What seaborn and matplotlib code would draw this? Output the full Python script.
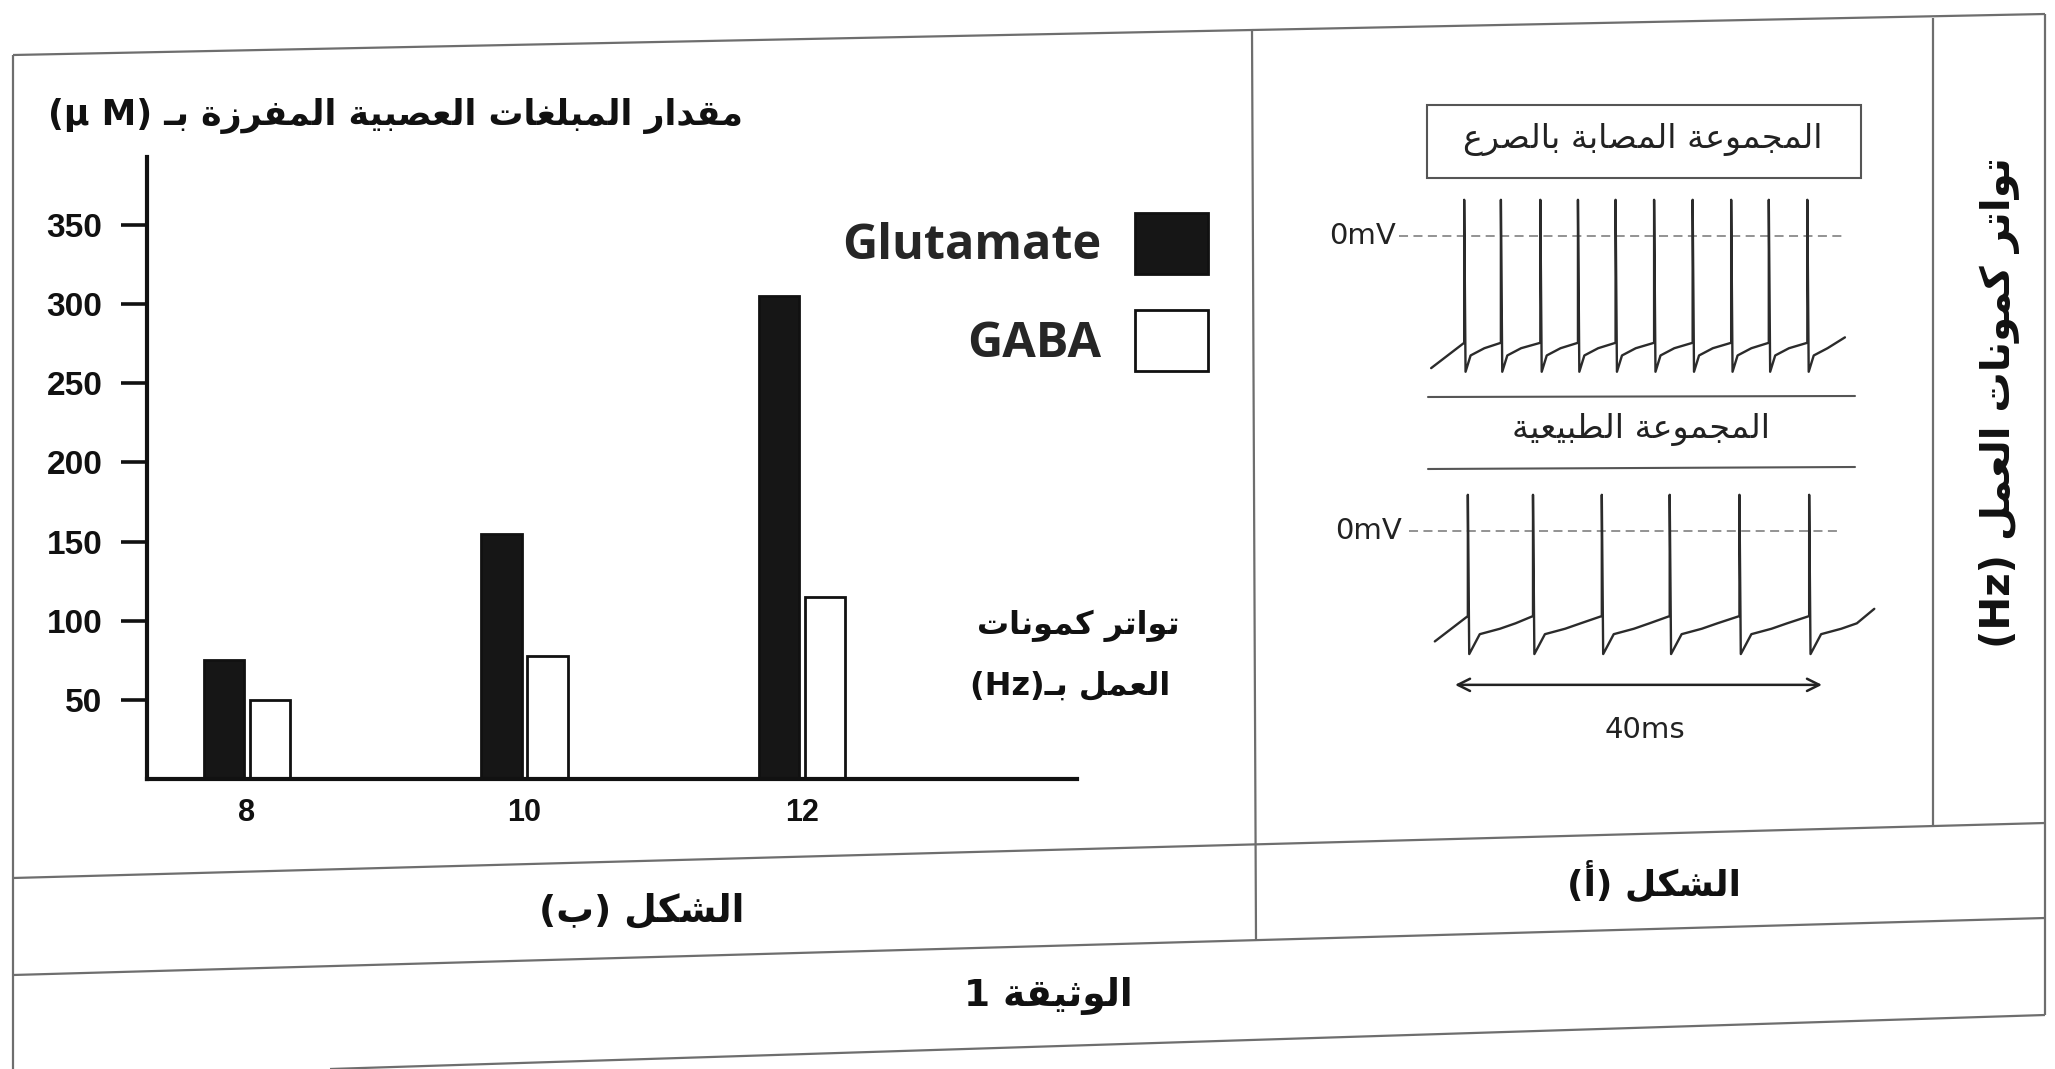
import re
import matplotlib
matplotlib.use('Agg')
import matplotlib.pyplot as plt
import seaborn as sns
import pandas as pd
from matplotlib.patches import Patch, Rectangle

# ---------------- data ----------------
frequencies = ['8', '10', '12']
glutamate = [75, 155, 305]
gaba = [50, 78, 115]
y_ticks = [50, 100, 150, 200, 250, 300, 350]

# action potential traces: spike times (ms) and voltages (mV)
epi_spikes = [1.0, 5.0, 9.3, 13.4, 17.5, 21.7, 25.9, 30.1, 34.2, 38.4]
epi_levels = {'start': (-2.6, -73), 'end': (42.5, -56), 'foot': -59, 'peak': 20,
              'trough': -75, 'mids': [(0.7, -66), (2.2, -62)]}
norm_spikes = [1.4, 8.5, 16.0, 23.4, 31.0, 38.6]
norm_levels = {'start': (-2.2, -61), 'end': (45.7, -43), 'foot': -47, 'peak': 20,
               'trough': -68, 'mids': [(1.3, -57), (3.5, -54), (5.2, -51)]}

W, H = 2055, 1069

# ---------------- arabic shaping (no bidi lib available) ----------------
AR_LETTERS = [
    ('ء', 0xFE80, 1), ('آ', 0xFE81, 2), ('أ', 0xFE83, 2), ('ؤ', 0xFE85, 2),
    ('إ', 0xFE87, 2), ('ئ', 0xFE89, 4), ('ا', 0xFE8D, 2), ('ب', 0xFE8F, 4),
    ('ة', 0xFE93, 2), ('ت', 0xFE95, 4), ('ث', 0xFE99, 4), ('ج', 0xFE9D, 4),
    ('ح', 0xFEA1, 4), ('خ', 0xFEA5, 4), ('د', 0xFEA9, 2), ('ذ', 0xFEAB, 2),
    ('ر', 0xFEAD, 2), ('ز', 0xFEAF, 2), ('س', 0xFEB1, 4), ('ش', 0xFEB5, 4),
    ('ص', 0xFEB9, 4), ('ض', 0xFEBD, 4), ('ط', 0xFEC1, 4), ('ظ', 0xFEC5, 4),
    ('ع', 0xFEC9, 4), ('غ', 0xFECD, 4), ('ف', 0xFED1, 4), ('ق', 0xFED5, 4),
    ('ك', 0xFED9, 4), ('ل', 0xFEDD, 4), ('م', 0xFEE1, 4), ('ن', 0xFEE5, 4),
    ('ه', 0xFEE9, 4), ('و', 0xFEED, 2), ('ى', 0xFEEF, 2), ('ي', 0xFEF1, 4),
]
FORMS = {c: (b, n) for c, b, n in AR_LETTERS}
LAM_ALEF = {'آ': 0xFEF5, 'أ': 0xFEF7, 'إ': 0xFEF9, 'ا': 0xFEFB}
TATWEEL = 'ـ'


def dual(c):
    return c == TATWEEL or (c in FORMS and FORMS[c][1] == 4)


def joins(c):
    return c == TATWEEL or (c in FORMS and FORMS[c][1] > 1)


def ar(text):
    lines = []
    for line in text.split('\n'):
        out = []
        i = 0
        while i < len(line):
            c = line[i]
            prev = line[i - 1] if i > 0 else ''
            nxt = line[i + 1] if i + 1 < len(line) else ''
            link_prev = dual(prev) and joins(c)
            if c == 'ل' and nxt in LAM_ALEF:
                out.append(chr(LAM_ALEF[nxt] + (1 if link_prev else 0)))
                i += 2
                continue
            if c in FORMS:
                base, n = FORMS[c]
                link_next = n == 4 and joins(nxt)
                if n == 1:
                    k = 0
                elif link_prev and link_next:
                    k = 3
                elif link_next:
                    k = 2
                elif link_prev:
                    k = 1
                else:
                    k = 0
                out.append(chr(base + k))
            else:
                out.append(c)
            i += 1
        tokens = re.findall(r'[A-Za-z0-9.]+|.', ''.join(out))
        mirror = {'(': ')', ')': '('}
        lines.append(''.join(mirror.get(t, t) for t in reversed(tokens)))
    return '\n'.join(lines)


def build_trace(spikes, lv):
    t, v = [lv['start'][0]], [lv['start'][1]]
    for s in spikes:
        t += [s, s, s + 0.15]
        v += [lv['foot'], lv['peak'], lv['trough']]
        for dt, mv in lv['mids']:
            t.append(s + dt)
            v.append(mv)
    t.append(lv['end'][0])
    v.append(lv['end'][1])
    return pd.DataFrame({'t': t, 'v': v})


def px_rect(l, t, r, b):
    return [l / W, 1 - b / H, (r - l) / W, (b - t) / H]


# ---------------- figure ----------------
sns.set_theme(style='white')
plt.rcParams['font.family'] = ['DejaVu Sans']
AR_FONT = ['DejaVu Sans']
NUM_FONT = ['Liberation Sans', 'DejaVu Sans']
LAT_FONT = ['Open Sans', 'DejaVu Sans']

fig = plt.figure(figsize=(W / 100, H / 100), dpi=100, facecolor='white')

# background layer in pixel coordinates for the table frame and captions
bg = fig.add_axes([0, 0, 1, 1], zorder=0)
bg.set_xlim(0, W)
bg.set_ylim(H, 0)
bg.axis('off')

frame_col = '#6e6e6e'
frame_lines = [
    ((13, 2045), (55, 14)),      # top
    ((13, 2045), (878, 823)),    # under the figures
    ((13, 2045), (975, 918)),    # under the captions
    ((330, 2045), (1069, 1015)), # bottom
    ((13, 13), (55, 1069)),      # left border
    ((2045, 2045), (14, 1015)),  # right border
    ((1252, 1256), (29, 940)),   # middle divider
    ((1933, 1933), (18, 826)),   # right column
]
for xs, ys in frame_lines:
    bg.plot(xs, ys, color=frame_col, lw=1.6, solid_capstyle='butt')

# boxes over the traces
bg.add_patch(Rectangle((1427, 105), 434, 73, fill=False, ec='#555555', lw=1.5))
bg.plot([1428, 1855], [397, 396], color='#555555', lw=1.5)
bg.plot([1428, 1855], [469, 467], color='#555555', lw=1.5)

bg.text(1643, 139, ar('المجموعة المصابة بالصرع'), family=AR_FONT, fontsize=24,
        ha='center', va='center', color='#222222')
bg.text(1641, 430, ar('المجموعة الطبيعية'), family=AR_FONT, fontsize=24,
        ha='center', va='center', color='#222222')

bg.text(395, 116, ar('مقدار المبلغات العصبية المفرزة بـ (M µ)'), family=AR_FONT,
        fontsize=25, fontweight='bold', ha='center', va='center', color='#111111')
bg.text(1078, 626, ar('تواتر كمونات'), family=AR_FONT, fontsize=23,
        fontweight='bold', ha='center', va='center', color='#111111')
bg.text(1070, 686, ar('العمل بـ(Hz)'), family=AR_FONT, fontsize=23,
        fontweight='bold', ha='center', va='center', color='#111111')

bg.text(642, 911, ar('الشكل (ب)'), family=AR_FONT, fontsize=27, fontweight='bold',
        ha='center', va='center', color='#111111')
bg.text(1654, 881, ar('الشكل (أ)'), family=AR_FONT, fontsize=26, fontweight='bold',
        ha='center', va='center', color='#111111')
bg.text(1048, 996, ar('الوثيقة 1'), family=AR_FONT, fontsize=27, fontweight='bold',
        ha='center', va='center', color='#111111')
bg.text(1999, 403, ar('تواتر كمونات العمل (Hz)'), family=AR_FONT, fontsize=29,
        fontweight='bold', ha='center', va='center', rotation=90, color='#111111')

# ---------------- bar chart ----------------
ax = fig.add_axes(px_rect(147, 157, 1077, 779), zorder=2)
ax.patch.set_alpha(0)

df = pd.DataFrame({
    'freq': frequencies * 2,
    'transmitter': ['Glutamate'] * len(glutamate) + ['GABA'] * len(gaba),
    'amount': glutamate + gaba,
})
bar_colors = {'Glutamate': '#161616', 'GABA': 'white'}
sns.barplot(data=df, x='freq', y='amount', hue='transmitter', order=frequencies,
            hue_order=['Glutamate', 'GABA'], palette=bar_colors, edgecolor='#111111',
            linewidth=2, width=0.33, gap=0.12, saturation=1, legend=False, ax=ax)

ax.set_xlim(-0.36, 2.99)
ax.set_ylim(0, 393)
ax.set_xlabel('')
ax.set_ylabel('')
ax.set_yticks(y_ticks)
ax.set_yticklabels([str(t) for t in y_ticks], family=NUM_FONT, fontsize=24,
                   fontweight='bold')
ax.set_xticks(range(len(frequencies)))
ax.set_xticklabels(frequencies, family=NUM_FONT, fontsize=22, fontweight='bold')
ax.tick_params(axis='y', direction='out', length=19, width=2.6, pad=13, color='#111111',
               left=True, labelcolor='#111111')
ax.tick_params(axis='x', length=0, pad=14, labelcolor='#111111')
for side in ['top', 'right']:
    ax.spines[side].set_visible(False)
for side in ['left', 'bottom']:
    ax.spines[side].set_linewidth(3)
    ax.spines[side].set_color('#111111')
ax.grid(False)

handles = [Patch(facecolor=bar_colors[k], edgecolor='#111111', linewidth=2)
           for k in ['Glutamate', 'GABA']]
fig.legend(handles, ['Glutamate', 'GABA'], loc='upper right',
           bbox_to_anchor=(1208 / W, 1 - 213 / H), markerfirst=False, frameon=False,
           prop={'family': LAT_FONT, 'weight': 'bold', 'size': 35},
           handlelength=1.5, handleheight=1.55, handletextpad=0.7, labelspacing=0.75,
           borderpad=0, borderaxespad=0)

# ---------------- action potential traces ----------------
MS_PX = 9.175   # pixels per ms
MV_PX = 1.81    # pixels per mV
X0 = 1455       # pixel of t = 0


def trace_axes(zero_px):
    l = X0 - 7 * MS_PX
    r = X0 + 46 * MS_PX
    t = zero_px - 25 * MV_PX
    b = zero_px + 80 * MV_PX
    a = fig.add_axes(px_rect(l, t, r, b), zorder=3)
    a.set_xlim(-7, 46)
    a.set_ylim(-80, 25)
    a.axis('off')
    return a


for spikes, lv, zero_px, dash_span, lab_x in [
        (epi_spikes, epi_levels, 236, (-6.1, 42.5), -6.4),
        (norm_spikes, norm_levels, 531, (-5.0, 42.0), -5.8)]:
    a = trace_axes(zero_px)
    a.hlines(0, dash_span[0], dash_span[1], colors='#8a8a8a', linestyles=(0, (5, 3)), lw=1.3)
    sns.lineplot(data=build_trace(spikes, lv), x='t', y='v', sort=False, estimator=None,
                 color='#2b2b2b', lw=1.7, ax=a)
    a.text(lab_x, 0, '0mV', family=['DejaVu Sans'], fontsize=21, ha='right', va='center',
           color='#222222')
    a.set_xlabel('')
    a.set_ylabel('')
    last = a

last.annotate('', xy=(40, -85), xytext=(0, -85), annotation_clip=False,
              arrowprops=dict(arrowstyle='<->', lw=1.8, color='#222222', mutation_scale=22,
                              shrinkA=0, shrinkB=0))
last.text(20.7, -110, '40ms', family=['DejaVu Sans'], fontsize=21, ha='center',
          va='center', color='#222222', clip_on=False)

fig.savefig('out.png', dpi=100, facecolor='white')
